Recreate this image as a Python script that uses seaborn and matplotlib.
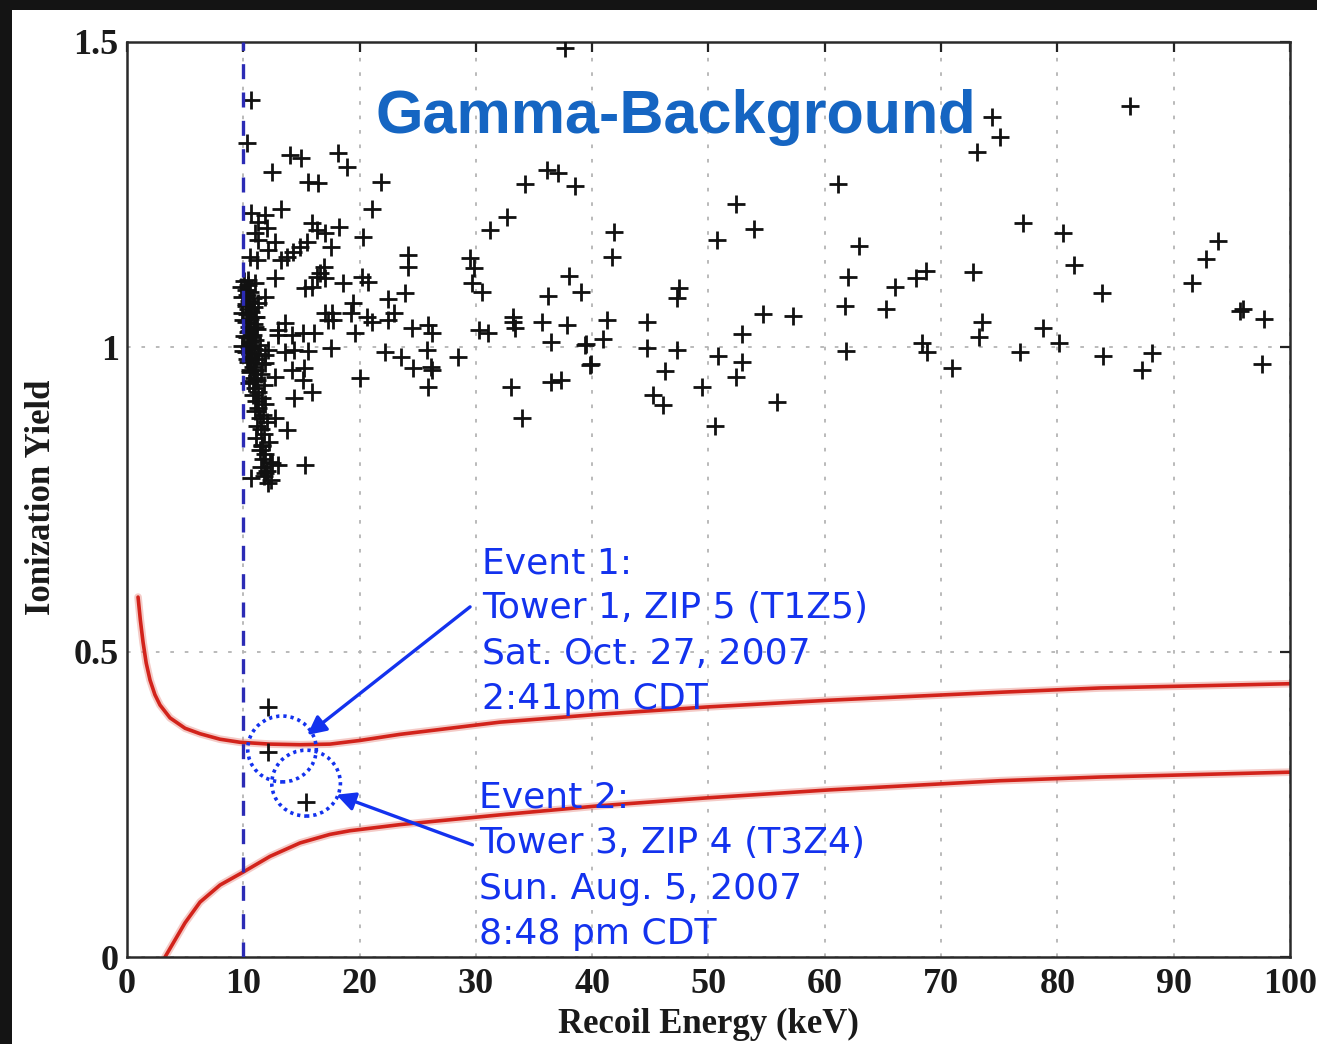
import matplotlib
matplotlib.use("Agg")
import matplotlib.pyplot as plt
import pandas as pd
import seaborn as sns
from matplotlib.patches import Ellipse, Rectangle

# ---------------------------------------------------------------------------
# Gamma-calibration events: recoil energy (keV) and ionization yield
# ---------------------------------------------------------------------------
sparse_energy = [37.7, 86.2, 74.4, 75.1, 73.1, 36.1, 37.1, 34.2, 38.5, 61.1,
                 32.7, 31.2, 41.9, 41.7, 52.4, 53.9, 50.7, 77.0, 80.5, 81.4,
                 83.8, 62.9, 62.0, 61.7, 57.3, 54.7, 65.3, 66.0, 67.8, 68.7,
                 72.7, 68.4, 68.8, 70.9, 73.5, 73.3, 76.8, 78.8, 80.1, 83.9,
                 87.3, 88.1, 91.6, 92.8, 93.8, 95.7, 96.0, 97.8, 97.6, 61.8,
                 29.5, 29.8, 29.7, 30.5, 38.0, 36.2, 39.0, 33.2, 33.2, 33.4,
                 35.7, 37.8, 30.3, 31.0, 41.3, 40.9, 39.4, 39.5, 39.8, 39.9,
                 36.5, 44.7, 44.7, 47.3, 46.3, 47.5, 47.3, 52.9, 50.8, 52.9,
                 52.4, 49.4, 55.9, 50.6, 33.0, 36.5, 37.3, 34.0, 45.2, 46.1,
                 28.5]
sparse_yield = [1.490, 1.395, 1.377, 1.344, 1.320, 1.290, 1.285, 1.267, 1.264, 1.267,
                1.213, 1.192, 1.189, 1.148, 1.234, 1.193, 1.175, 1.203, 1.187, 1.134,
                1.089, 1.166, 1.115, 1.067, 1.051, 1.054, 1.062, 1.098, 1.113, 1.125,
                1.123, 1.007, 0.992, 0.966, 1.041, 1.016, 0.992, 1.031, 1.007, 0.985,
                0.962, 0.990, 1.105, 1.144, 1.174, 1.059, 1.062, 1.046, 0.972, 0.993,
                1.146, 1.130, 1.105, 1.090, 1.116, 1.084, 1.090, 1.049, 1.041, 1.031,
                1.041, 1.036, 1.028, 1.023, 1.044, 1.013, 1.003, 1.005, 0.970, 0.972,
                1.008, 1.041, 0.998, 0.995, 0.961, 1.097, 1.080, 1.021, 0.985, 0.975,
                0.951, 0.934, 0.910, 0.870, 0.934, 0.943, 0.946, 0.884, 0.921, 0.905,
                0.984]

mid_energy = [10.7, 10.3, 14.0, 15.0, 18.1, 18.9, 12.5, 15.6, 16.4, 21.8, 21.1, 13.2, 20.3, 18.2,
              15.9, 16.3, 17.0, 15.5, 14.9, 14.3, 13.8, 13.2, 17.5,
              16.9, 16.6, 17.0, 16.3, 15.3, 15.9, 18.6, 20.2, 20.7,
              24.2, 24.2, 23.9, 22.4,
              19.4, 19.3, 19.6, 17.6, 17.7, 20.6, 21.1, 22.4, 23.0, 24.5, 25.9, 26.2,
              17.0, 17.3, 13.6, 13.0,
              13.0, 14.2, 15.1, 16.1,
              17.5, 12.1, 13.6, 14.4, 15.6, 22.2, 23.6, 24.6, 25.8, 26.1, 26.2, 25.9, 20.0,
              15.2, 14.2, 12.7, 15.9, 14.4, 15.1, 12.7, 13.8, 15.3, 11.6, 12.5, 13.0]
mid_yield = [1.405, 1.334, 1.315, 1.310, 1.318, 1.295, 1.287, 1.270, 1.269, 1.270, 1.226, 1.226, 1.180, 1.197,
             1.203, 1.192, 1.187, 1.172, 1.164, 1.156, 1.148, 1.143, 1.164,
             1.131, 1.121, 1.113, 1.115, 1.097, 1.098, 1.105, 1.115, 1.107,
             1.151, 1.131, 1.089, 1.079,
             1.072, 1.056, 1.023, 1.056, 1.044, 1.049, 1.041, 1.044, 1.056, 1.031, 1.036, 1.023,
             1.056, 1.044, 1.039, 1.028,
             1.020, 1.020, 1.023, 1.023,
             0.998, 0.995, 0.992, 0.995, 0.993, 0.992, 0.984, 0.966, 0.995, 0.967, 0.962, 0.934, 0.949,
             0.966, 0.962, 0.951, 0.926, 0.916, 0.946, 0.884, 0.864, 0.807, 0.839, 0.810, 0.807]

edge_energy = [10.7, 11.9, 11.3, 12.0, 11.0, 11.3, 12.7, 12.1, 11.2, 10.6, 12.7, 11.0,
               10.4, 11.9, 11.3, 11.0, 11.0, 10.7, 11.9, 11.9, 11.9, 12.1, 10.7]
edge_yield = [1.220, 1.216, 1.205, 1.195, 1.187, 1.175, 1.172, 1.159, 1.143, 1.148, 1.113, 1.105,
              1.110, 1.082, 1.072, 1.049, 1.033, 1.016, 0.987, 0.974, 0.793, 0.777, 0.785]

threshold_energy = [9.8, 10.1, 10.4, 10.2, 10.6, 10.3, 10.8, 10.5, 10.2, 10.9, 10.4,
                    10.7, 9.9, 10.3, 11.1, 10.6, 10.2, 10.9, 10.5, 11.2, 10.4, 10.8,
                    10.3, 11.0, 10.6, 11.4, 9.9, 10.5, 10.9, 10.2, 11.3, 10.7, 11.1,
                    10.4, 11.6, 10.8, 11.0, 10.6, 11.5, 10.9, 11.2, 10.5, 11.8,
                    11.0, 11.3, 10.8, 11.6, 11.1, 11.9, 11.3, 11.0, 11.7, 11.4,
                    12.0, 11.2, 11.5, 11.8, 11.1, 12.2, 11.6, 11.4, 11.9, 11.7,
                    12.3, 11.5, 12.0, 11.8, 12.4,
                    9.9, 10.2, 10.0, 10.5, 10.1, 10.7, 10.3, 10.6, 10.0, 10.8]
threshold_yield = [1.098, 1.108, 1.102, 1.094, 1.090, 1.085, 1.080, 1.076, 1.071, 1.066, 1.062,
                   1.058, 1.055, 1.054, 1.050, 1.046, 1.041, 1.037, 1.033, 1.029, 1.024, 1.020,
                   1.016, 1.012, 1.008, 1.004, 1.001, 1.000, 0.996, 0.992, 0.988, 0.984, 0.980,
                   0.976, 0.972, 0.968, 0.963, 0.959, 0.955, 0.950, 0.946, 0.941, 0.937,
                   0.932, 0.927, 0.922, 0.917, 0.912, 0.906, 0.900, 0.895, 0.889, 0.883,
                   0.877, 0.871, 0.865, 0.858, 0.851, 0.845, 0.838, 0.831, 0.824, 0.817,
                   0.811, 0.804, 0.797, 0.789, 0.782,
                   1.082, 1.067, 1.045, 1.027, 1.018, 0.999, 0.981, 0.962, 0.993, 0.944]

# the two candidate events below the gamma band, plus one just above
candidate_energy = [12.1, 12.1, 15.4]
candidate_yield = [0.410, 0.336, 0.254]

# nuclear-recoil acceptance band (upper and lower edges)
band_upper_energy = [0.95, 1.15, 1.38, 1.65, 1.98, 2.40, 2.84, 3.70, 4.99, 6.28, 8.00, 9.72,
                     12.30, 14.88, 17.45, 20.03, 23.47, 32.07, 40.67, 49.96, 60.45, 75.06,
                     83.66, 100.0]
band_upper_yield = [0.590, 0.552, 0.516, 0.482, 0.454, 0.430, 0.413, 0.392, 0.375, 0.366, 0.357,
                    0.352, 0.349, 0.348, 0.349, 0.355, 0.365, 0.385, 0.398, 0.410, 0.421, 0.434,
                    0.441, 0.448]
band_lower_energy = [3.27, 4.13, 4.99, 6.28, 8.00, 9.97, 12.30, 14.88, 17.45, 19.17, 23.47,
                     32.07, 40.67, 49.96, 60.45, 75.06, 83.66, 100.0]
band_lower_yield = [0.000, 0.028, 0.056, 0.090, 0.118, 0.139, 0.165, 0.187, 0.201, 0.207, 0.217,
                    0.233, 0.248, 0.261, 0.274, 0.289, 0.295, 0.303]

recoil_threshold = 10.0

x_ticks = [0, 10, 20, 30, 40, 50, 60, 70, 80, 90, 100]
y_ticks = [0, 0.5, 1, 1.5]
y_tick_labels = ["0", "0.5", "1", "1.5"]

event1_lines = ["Event 1:", "Tower 1, ZIP 5 (T1Z5)", "Sat. Oct. 27, 2007", "2:41pm CDT"]
event2_lines = ["Event 2:", "Tower 3, ZIP 4 (T3Z4)", "Sun. Aug. 5, 2007", "8:48 pm CDT"]

# ---------------------------------------------------------------------------
energy_kev = sparse_energy + mid_energy + edge_energy + threshold_energy + candidate_energy
ion_yield = sparse_yield + mid_yield + edge_yield + threshold_yield + candidate_yield
events = pd.DataFrame({"energy": energy_kev, "yield": ion_yield})

sns.set_theme(style="white")

W, H = 1317, 1044
fig = plt.figure(figsize=(W / 100, H / 100), dpi=100)
fig.patch.set_facecolor("#141414")
fig.add_artist(Rectangle((12 / W, 0), 1, (H - 10) / H, transform=fig.transFigure,
                         facecolor="white", edgecolor="none", zorder=-5))

ax = fig.add_axes([127 / W, 1 - 957 / H, (1290 - 127) / W, (957 - 42) / H])
ax.set_facecolor("white")

serif = ["Liberation Serif", "DejaVu Serif"]
blue_note = "#1332ee"

# band edges with a soft halo
for e, y in [(band_upper_energy, band_upper_yield), (band_lower_energy, band_lower_yield)]:
    sns.lineplot(x=e, y=y, ax=ax, color="#e06a60", lw=5.5, alpha=0.35,
                 sort=False, estimator=None, zorder=2)
    sns.lineplot(x=e, y=y, ax=ax, color="#d2231b", lw=2.6,
                 sort=False, estimator=None, zorder=2.1)

sns.scatterplot(data=events, x="energy", y="yield", marker="+", s=175,
                color="#111111", linewidth=2.0, ax=ax, zorder=3, legend=False)

ax.axvline(recoil_threshold, color="#2b2bb5", lw=2.4, linestyle=(0, (4.5, 4.0)), zorder=4)

# dotted circles around the two candidate events
for (cx, cy) in [(13.33, 0.341), (15.4, 0.285)]:
    ax.add_patch(Ellipse((cx, cy), 5.9, 0.108, fill=False, edgecolor=blue_note,
                         lw=2.6, linestyle=(0, (0.9, 1.1)), zorder=5))

ax.annotate("", xy=(15.5, 0.364), xytext=(29.5, 0.574),
            arrowprops=dict(arrowstyle="-|>", color=blue_note, lw=2.4,
                            mutation_scale=28, shrinkA=0, shrinkB=0), zorder=6)
ax.annotate("", xy=(18.0, 0.266), xytext=(29.7, 0.184),
            arrowprops=dict(arrowstyle="-|>", color=blue_note, lw=2.4,
                            mutation_scale=28, shrinkA=0, shrinkB=0), zorder=6)

line_step = 0.0745
for i, txt in enumerate(event1_lines):
    ax.text(30.5, 0.6295 - i * line_step, txt, color=blue_note, fontsize=26,
            family=["DejaVu Sans"], va="baseline", ha="left", zorder=7)
for i, txt in enumerate(event2_lines):
    ax.text(30.27, 0.2443 - i * line_step, txt, color=blue_note, fontsize=26,
            family=["DejaVu Sans"], va="baseline", ha="left", zorder=7)

ax.text(47.2, 1.351, "Gamma-Background", color="#1565c2", fontsize=44,
        family=["Liberation Sans", "DejaVu Sans"], fontweight="bold",
        ha="center", va="baseline", zorder=7)

# axes styling
ax.set_xlim(0, 100)
ax.set_ylim(0, 1.5)
ax.set_xticks(x_ticks)
ax.set_yticks(y_ticks)
ax.set_yticklabels(y_tick_labels)
ax.grid(True, color="#b4b4b4", lw=1.3, linestyle=(0, (2, 6)), zorder=0)
ax.set_axisbelow(True)
ax.tick_params(direction="in", length=7, width=1.6, top=True, right=True,
               colors="#222222", labelcolor="#1a1a1a", labelsize=26)
ax.tick_params(axis="x", pad=8)
ax.tick_params(axis="y", pad=6)
for lab in ax.get_xticklabels() + ax.get_yticklabels():
    lab.set_family(serif)
    lab.set_fontweight("bold")
for sp in ax.spines.values():
    sp.set_color("#2a2a2a")
    sp.set_linewidth(1.8)
    sp.set_visible(True)

ax.set_xlabel("Recoil Energy (keV)", family=serif, fontweight="bold", fontsize=25, color="#1a1a1a")
ax.set_ylabel("Ionization Yield", family=serif, fontweight="bold", fontsize=25, color="#1a1a1a")
ax.xaxis.set_label_coords(0.4996, -0.0557)
ax.yaxis.label.set_va("center")
ax.yaxis.set_label_coords(-0.0731, 0.5027)

fig.savefig("out.png", dpi=100, facecolor=fig.get_facecolor())
